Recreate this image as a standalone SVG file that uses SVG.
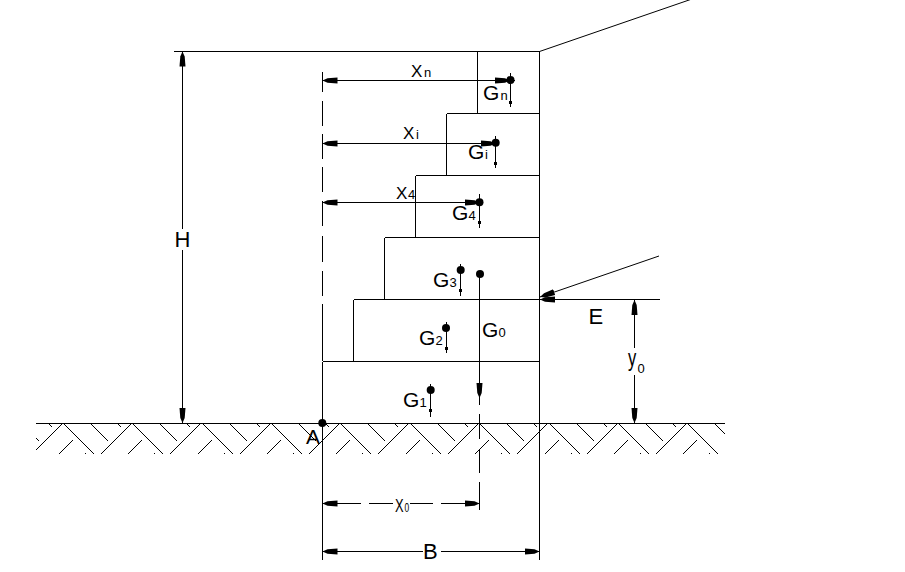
<svg xmlns="http://www.w3.org/2000/svg" width="905" height="572" viewBox="0 0 905 572">
<style>
.l{fill:none;stroke:#000;stroke-width:1;shape-rendering:crispEdges}
.s{fill:none;stroke:#000;stroke-width:1}
.a{marker-end:url(#ah)}
.b{marker-start:url(#ah)}
.d{fill:#000}
text{font-family:"Liberation Sans",Arial,sans-serif;fill:#000}
.g{font-size:21px}.n{font-size:13px}.x{font-size:17px}.c{font-size:22px}
</style>
<defs>
<marker id="ah" markerUnits="userSpaceOnUse" markerWidth="18" markerHeight="10" viewBox="-15 -5 18 10" refX="0" refY="0" orient="auto-start-reverse">
<polygon points="-15,-3 -15,3 -5,2.2 0,0 -5,-2.2" fill="#000"/>
</marker>
<clipPath id="hc"><rect x="36" y="423" width="689" height="34"/></clipPath>
<path id="h" class="l" d="M0,0L31,31M27,0L44.500,17.500M54,0L58,4M67,1L37,31M9.500,16.500L-5,31M21,31L22.500,29.500"/>
</defs>
<g id="ground">
<g clip-path="url(#hc)">
<use href="#h" x="-5.500" y="423.500"/>
<use href="#h" x="63.500" y="423.500"/>
<use href="#h" x="132.500" y="423.500"/>
<use href="#h" x="202.500" y="423.500"/>
<use href="#h" x="271.500" y="423.500"/>
<use href="#h" x="340.500" y="423.500"/>
<use href="#h" x="410.500" y="423.500"/>
<use href="#h" x="479.500" y="423.500"/>
<use href="#h" x="549.500" y="423.500"/>
<use href="#h" x="618.500" y="423.500"/>
<use href="#h" x="687.500" y="423.500"/>
</g>
<path class="l" d="M36,423.500H725"/>
</g>
<g id="wall">
<path class="l" d="M174,51.500H539.500V560M477.500,51.500V113.500M446.500,113.500H539.500M446.500,113.500V175.500M415.500,175.500H539.500M415.500,175.500V237.500M384.500,237.500H539.500M384.500,237.500V299.500M353.500,299.500H660M353.500,299.500V361.500M322.500,361.500H539.500M322.500,361.500V560"/>
<path class="s" d="M539.500,51.500L692,-1"/>
<path class="l" d="M322.500,72V92M322.500,101V126M322.500,134V159M322.500,167V192M322.500,201V226M322.500,236V262M322.500,271V296M322.500,304V361"/>
</g>
<g id="connectors">
<path class="l a" d="M182.500,229V51.500"/>
<path class="l a" d="M182.500,250V423"/>
<path class="l b" d="M322.500,80.500H512"/>
<path class="l a" d="M322.500,80.500H510"/>
<path class="l b" d="M322.500,143.500H497"/>
<path class="l a" d="M322.500,143.500H495.500"/>
<path class="l b" d="M322.500,202.500H481"/>
<path class="l a" d="M322.500,202.500H479.500"/>
<path class="l a" d="M479.500,274V398"/>
<path class="l" d="M479.500,398V405M479.500,414V439M479.500,449V473M479.500,482V510"/>
<path class="l b" d="M322.500,503.500H361M369,503.500H393M410,503.500H433M441,503.500H479.500"/>
<path class="l a" d="M441,503.500H479.500"/>
<path class="l b" d="M322.500,551.500H423"/>
<path class="l a" d="M441,551.500H539.500"/>
<path class="l b" d="M634.500,300V348"/>
<path class="l a" d="M634.500,375V423"/>
<path class="s a" d="M659,256L540,297"/>
<path class="l a" d="M660,299.500H540"/>
<path class="l" d="M510.500,73V107M495.500,136V168M479.500,194V228M460.500,264V296M446.500,322V353M430.500,384V417"/>
<path class="l" d="M510,80.500H515M495.500,143.500H499"/>
</g>
<g id="weights">
<circle class="d" cx="510.500" cy="80" r="4"/><rect class="d" x="509" y="101" width="3" height="3"/>
<circle class="d" cx="495.700" cy="142.700" r="4"/><rect class="d" x="494" y="162" width="3" height="3"/>
<circle class="d" cx="479.500" cy="202.300" r="4"/><rect class="d" x="478" y="221" width="3" height="3"/>
<circle class="d" cx="460.700" cy="270" r="4"/><rect class="d" x="459" y="289" width="3" height="3"/>
<circle class="d" cx="480" cy="274" r="4"/>
<circle class="d" cx="446" cy="328" r="4"/><rect class="d" x="445" y="347" width="3" height="3"/>
<circle class="d" cx="430.700" cy="390" r="4"/><rect class="d" x="429" y="409" width="3" height="3"/>
<circle class="d" cx="322.300" cy="423" r="4"/>
</g>
<g id="labels">
<text class="c" x="174.500" y="247">H</text>
<text class="c" x="588.500" y="324">E</text>
<text class="c" x="423" y="559">B</text>
<text class="g" x="306" y="444">A</text>
<text transform="translate(628 366) scale(.72 1)" font-size="23">y</text><text x="637.500" y="373" font-size="13">0</text>
<text class="x" x="411" y="77">X</text><text class="n" x="424" y="77">n</text>
<text class="x" x="403" y="139">X</text><text class="n" x="416" y="139">i</text>
<text class="x" x="396" y="199">X</text><text class="n" x="408" y="199">4</text>
<text transform="translate(395 512) scale(.68 1)" font-size="19">X</text><text transform="translate(404.500 512) scale(.7 1)" font-size="12">0</text>
<text class="g" x="483" y="100">G</text><text class="n" x="500.500" y="100">n</text>
<text class="g" x="468" y="159">G</text><text class="n" x="485" y="159">i</text>
<text class="g" x="452" y="220">G</text><text class="n" x="468.500" y="220">4</text>
<text class="g" x="433" y="287">G</text><text class="n" x="449.500" y="287">3</text>
<text class="g" x="419" y="345">G</text><text class="n" x="435.500" y="345">2</text>
<text class="g" x="403" y="407">G</text><text class="n" x="419.500" y="407">1</text>
<text class="g" x="482" y="337">G</text><text class="n" x="498.500" y="337">0</text>
</g>
</svg>
